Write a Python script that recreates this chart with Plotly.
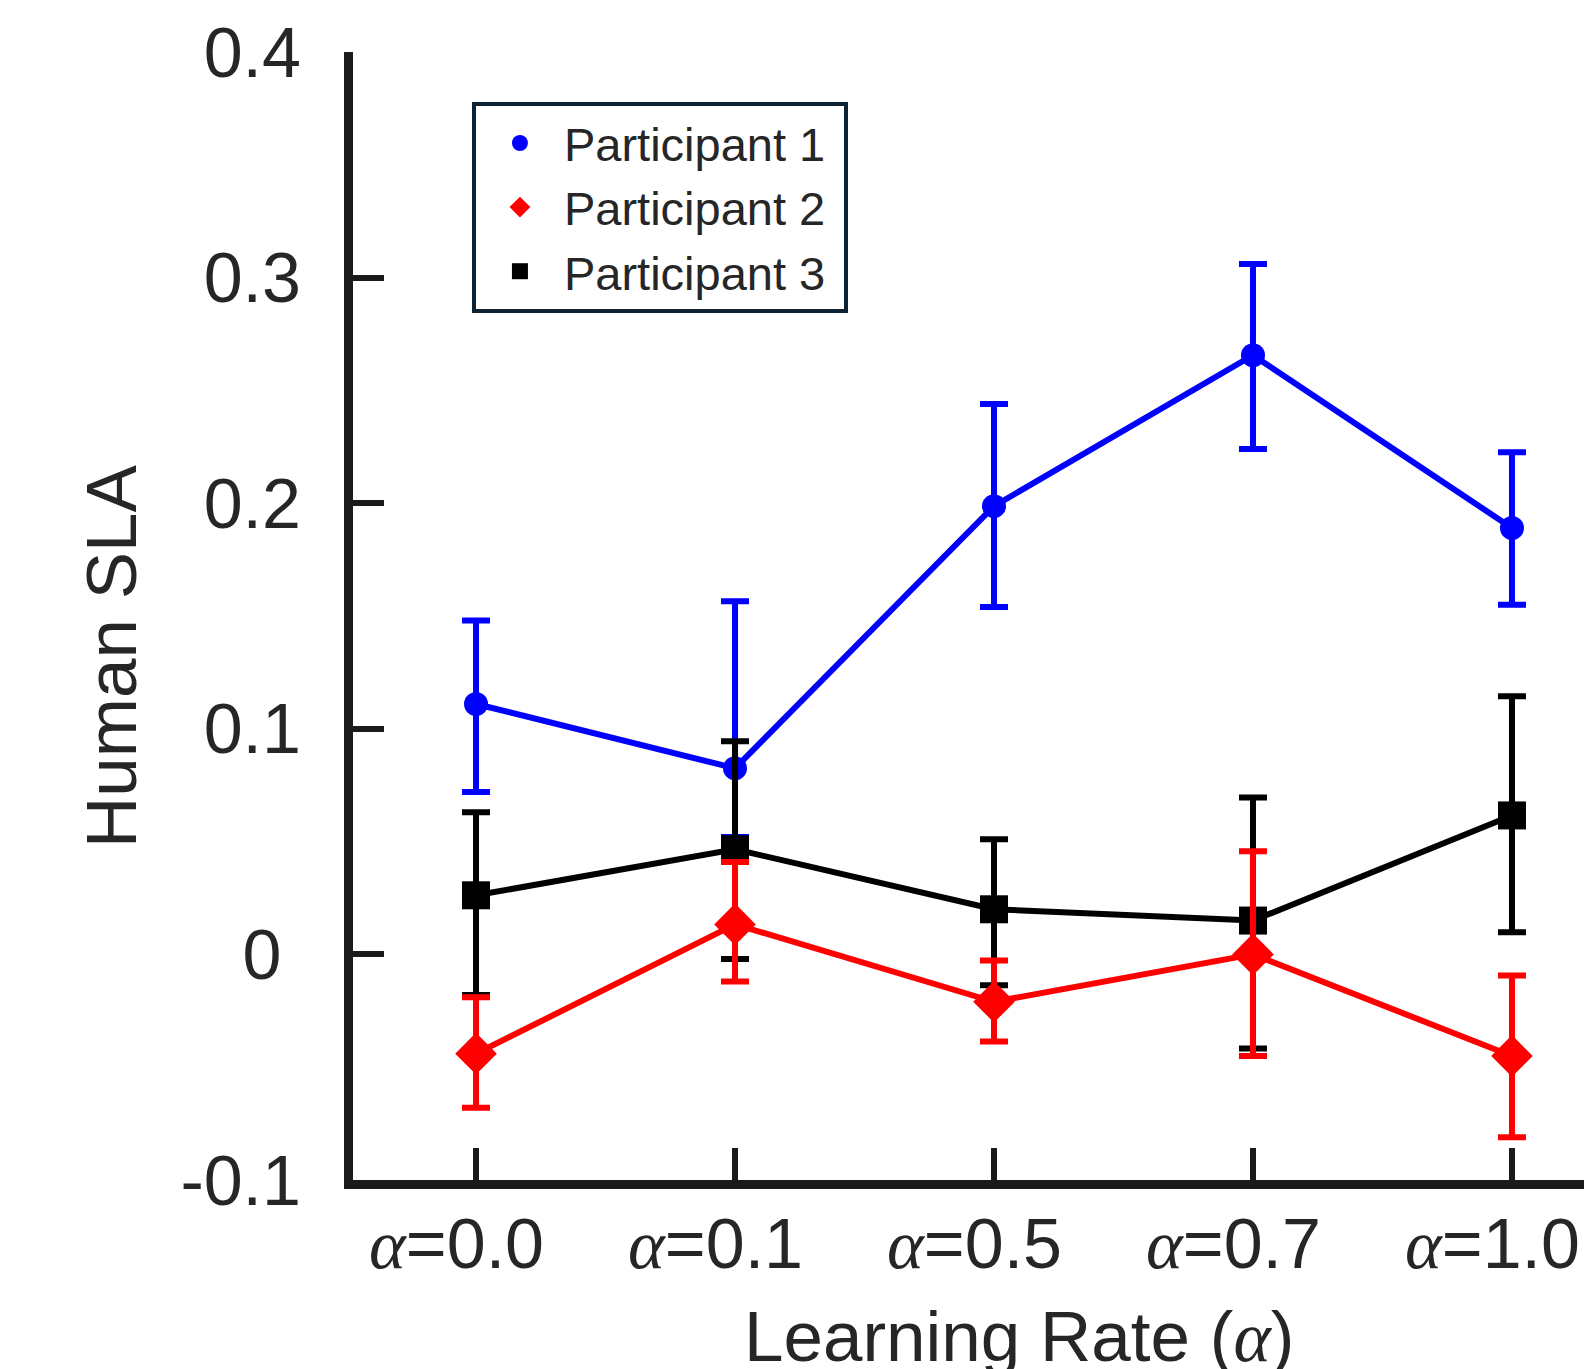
import plotly.graph_objects as go

# ---- data ----
categories = ["α=0.0", "α=0.1", "α=0.5", "α=0.7", "α=1.0"]
alpha_html = '<span style="font-family:Liberation Serif"><i>α</i></span>'
tick_values_text = ["=0.0", "=0.1", "=0.5", "=0.7", "=1.0"]

p1_mean = [0.111, 0.0825, 0.1987, 0.2656, 0.189]
p1_upper = [0.148, 0.1565, 0.244, 0.306, 0.2226]
p1_lower = [0.072, 0.052, 0.154, 0.224, 0.155]

p2_mean = [-0.044, 0.0133, -0.021, 0.0, -0.045]
p2_upper = [-0.019, 0.041, -0.0027, 0.0457, -0.0093]
p2_lower = [-0.068, -0.012, -0.0386, -0.045, -0.081]

p3_mean = [0.0262, 0.0466, 0.020, 0.015, 0.0616]
p3_upper = [0.063, 0.0945, 0.051, 0.0696, 0.1144]
p3_lower = [-0.018, -0.002, -0.0137, -0.0417, 0.0098]

y_ticks = [-0.1, 0, 0.1, 0.2, 0.3, 0.4]
y_ticktext = ["-0.1", "0\u2008", "0.1", "0.2", "0.3", "0.4"]

series = [
    ("Participant 1", p1_mean, p1_upper, p1_lower, "#0000ff", "circle", 24),
    ("Participant 3", p3_mean, p3_upper, p3_lower, "#000000", "square", 28),
    ("Participant 2", p2_mean, p2_upper, p2_lower, "#ff0000", "diamond", 32),
]
legend_rank = {"Participant 1": 1, "Participant 2": 2, "Participant 3": 3}

FONT = "Liberation Sans, Arial, sans-serif"
AXC = "#1a1a1a"
TXT = "#262626"

tick_labels = [alpha_html + t + "\u00a0\u00a0" for t in tick_values_text]

fig = go.Figure()
for name, mean, up, lo, col, sym, size in series:
    fig.add_trace(go.Scatter(
        x=categories, y=mean, mode="lines", showlegend=False,
        line=dict(color=col, width=6), hoverinfo="skip"))
    fig.add_trace(go.Scatter(
        x=categories, y=mean, mode="markers", name=name + "\u00a0",
        legendrank=legend_rank[name],
        marker=dict(color=col, symbol=sym, size=size, line=dict(width=0)),
        error_y=dict(type="data", symmetric=False,
                     array=[u - m for u, m in zip(up, mean)],
                     arrayminus=[m - l for m, l in zip(mean, lo)],
                     color=col, thickness=6, width=14)))

fig.update_layout(
    width=1584, height=1361,
    margin=dict(l=345, r=0, t=44, b=189, autoexpand=False),
    paper_bgcolor="white", plot_bgcolor="white",
    font=dict(family=FONT, color=TXT),
    showlegend=True,
    legend=dict(x=0.096, y=0.9557, xanchor="left", yanchor="top",
                bgcolor="white", bordercolor="#0d2233", borderwidth=4,
                font=dict(family=FONT, size=47, color=TXT),
                itemwidth=78, tracegroupgap=0),
    xaxis=dict(type="category", categoryorder="array", categoryarray=categories,
               range=[-0.475, 4.309], tickmode="array", tickvals=categories,
               ticktext=tick_labels, ticks="inside", ticklen=32, tickwidth=6,
               tickcolor=AXC, showline=True, linecolor=AXC, linewidth=9,
               showgrid=False, zeroline=False, ticklabelstandoff=-5,
               automargin=False,
               tickfont=dict(family=FONT, size=70, color=TXT)),
    yaxis=dict(range=[-0.1, 0.4], tickmode="array", tickvals=y_ticks,
               ticktext=y_ticktext, ticks="inside", ticklen=31, tickwidth=6,
               tickcolor=AXC, showline=True, linecolor=AXC, linewidth=9,
               showgrid=False, zeroline=False, ticklabelstandoff=29,
               automargin=False,
               tickfont=dict(family=FONT, size=70, color=TXT)),
    annotations=[
        dict(text="Human SLA", xref="paper", yref="paper", x=-0.1945, y=0.4637,
             xanchor="center", yanchor="middle", textangle=-90, showarrow=False,
             font=dict(family=FONT, size=71, color=TXT)),
        dict(text="Learning Rate (" + alpha_html + ")",
             xref="paper", yref="paper", x=0.5375, y=-0.139,
             xanchor="center", yanchor="middle", showarrow=False,
             font=dict(family=FONT, size=71, color=TXT)),
    ],
)

fig.write_html("out.html")
